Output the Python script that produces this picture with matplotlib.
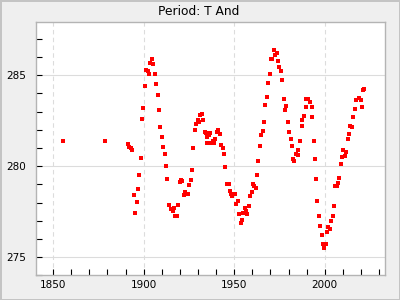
import numpy as np
import matplotlib
matplotlib.use("Agg")
import matplotlib.pyplot as plt
from matplotlib.ticker import MultipleLocator

years = [1855.6, 1878.9, 1891.1, 1892.0, 1892.8, 1893.3, 1894.4, 1895.0, 1896.1, 1896.7,
         1897.2, 1898.3, 1898.9, 1899.4, 1900.6, 1901.1, 1902.2, 1902.8, 1903.3, 1904.4,
         1905.0, 1906.1, 1906.7, 1907.8, 1908.3, 1908.9, 1910.0, 1910.6, 1911.7, 1912.2,
         1912.8, 1913.9, 1915.0, 1916.1, 1916.7, 1917.2, 1918.3, 1918.9, 1920.0, 1920.6,
         1921.1, 1922.2, 1922.8, 1924.4, 1925.0, 1926.1, 1926.7, 1927.2, 1928.3, 1928.9,
         1930.0, 1930.6, 1931.1, 1932.2, 1932.8, 1933.9, 1934.4, 1935.0, 1935.0, 1936.1,
         1936.6, 1937.2, 1938.3, 1938.8, 1939.4, 1940.5, 1941.0, 1942.1, 1942.7, 1943.8,
         1944.3, 1944.9, 1946.0, 1947.1, 1947.6, 1948.2, 1948.7, 1949.3, 1950.4, 1950.9,
         1952.0, 1952.6, 1953.7, 1954.2, 1954.8, 1955.9, 1956.4, 1957.0, 1958.1, 1958.6,
         1959.7, 1960.3, 1960.8, 1961.9, 1962.5, 1963.0, 1964.1, 1964.7, 1965.8, 1966.3,
         1966.8, 1967.9, 1968.5, 1969.6, 1970.1, 1970.7, 1971.8, 1972.3, 1973.4, 1974.0,
         1974.5, 1975.6, 1976.2, 1977.3, 1977.8, 1978.4, 1979.5, 1980.0, 1981.1, 1981.7,
         1982.2, 1983.3, 1983.9, 1985.0, 1985.5, 1986.1, 1987.2, 1987.7, 1988.8, 1989.4,
         1989.9, 1991.0, 1991.6, 1992.7, 1993.2, 1993.8, 1994.9, 1995.4, 1996.0, 1997.1,
         1997.6, 1998.7, 1999.3, 1999.8, 2000.9, 2001.5, 2002.0, 2003.1, 2003.7, 2004.8,
         2005.3, 2005.9, 2007.0, 2007.5, 2008.1, 2009.2, 2009.7, 2010.3, 2011.4, 2011.9,
         2013.0, 2013.6, 2014.1, 2015.2, 2015.8, 2016.8, 2017.4, 2019.0, 2020.1, 2020.7,
         2021.2, 2021.8]
values = [281.37, 281.37, 281.20, 281.08, 280.99, 280.88, 278.41, 277.42, 278.02, 278.74,
          279.51, 280.44, 282.58, 283.19, 284.40, 285.27, 285.22, 285.05, 285.66, 285.92,
          285.60, 285.05, 284.51, 283.90, 283.08, 282.14, 281.59, 281.04, 280.66, 280.00,
          279.29, 277.86, 277.64, 277.53, 277.69, 277.25, 277.25, 277.86, 279.12, 279.27,
          279.18, 278.41, 278.57, 278.46, 278.96, 279.23, 279.78, 280.99, 281.98, 282.31,
          282.53, 282.42, 282.80, 282.86, 282.53, 281.87, 281.81, 281.59, 281.26, 281.70,
          281.81, 281.26, 281.37, 281.26, 281.48, 281.87, 281.98, 281.76, 281.15, 280.99,
          280.66, 279.95, 279.01, 279.01, 278.63, 278.46, 278.35, 278.46, 278.46, 277.91,
          278.08, 277.36, 276.87, 277.03, 277.42, 277.69, 277.53, 277.36, 277.80, 278.35,
          278.57, 279.01, 278.90, 278.79, 279.51, 280.27, 281.10, 281.70, 281.92, 282.42,
          283.35, 283.79, 284.56, 285.05, 285.92, 285.88, 286.37, 286.10, 286.21, 285.77,
          285.44, 285.22, 284.73, 283.68, 283.08, 283.30, 282.42, 281.87, 281.48, 281.10,
          280.38, 280.27, 280.66, 280.88, 280.60, 281.37, 282.20, 282.53, 282.75, 283.24,
          283.68, 283.68, 283.52, 283.24, 282.69, 281.37, 280.38, 279.29, 278.08, 277.25,
          276.70, 276.21, 275.71, 275.49, 275.71, 276.37, 276.65, 276.54, 276.98, 277.25,
          277.80, 278.90, 278.90, 279.07, 279.34, 280.11, 280.49, 280.88, 280.55, 280.77,
          281.48, 281.76, 282.20, 282.14, 282.69, 283.13, 283.63, 283.74, 283.63, 283.24,
          284.18, 284.23]

title = "Period: T And"


def main():
    fig = plt.figure(figsize=(4, 3), dpi=100, facecolor='#efefef',
                     edgecolor='#c4c4c4', linewidth=2)
    ax = fig.add_axes([0.089, 0.082, 0.874, 0.846])
    ax.set_facecolor('white')

    ax.plot(years, values, 's', color='red', markersize=3.4, markeredgewidth=0)

    ax.set_xlim(1840.3, 2033.4)
    ax.set_ylim(274.0, 287.95)
    ax.xaxis.set_major_locator(MultipleLocator(50))
    ax.xaxis.set_minor_locator(MultipleLocator(10))
    ax.yaxis.set_major_locator(MultipleLocator(5))
    ax.yaxis.set_minor_locator(MultipleLocator(1))

    ax.tick_params(which='both', direction='in', length=4, width=0.8, color='black')
    ax.tick_params(axis='x', labelsize=7.5, pad=3)
    ax.tick_params(axis='y', labelsize=7.5, pad=7)

    ax.grid(axis='x', which='major', linestyle=(0, (4, 3)), color='#dcdcdc', linewidth=0.8)
    ax.grid(axis='y', which='major', linestyle='-', color='#dcdcdc', linewidth=0.8)
    ax.set_axisbelow(True)
    for sp in ax.spines.values():
        sp.set_color('#b4b4b4')
        sp.set_linewidth(1)

    fig.text(0.496, 0.963, title, ha='center', va='center', fontsize=8.8)

    fig.savefig("out.png", dpi=100)


if __name__ == '__main__':
    main()
